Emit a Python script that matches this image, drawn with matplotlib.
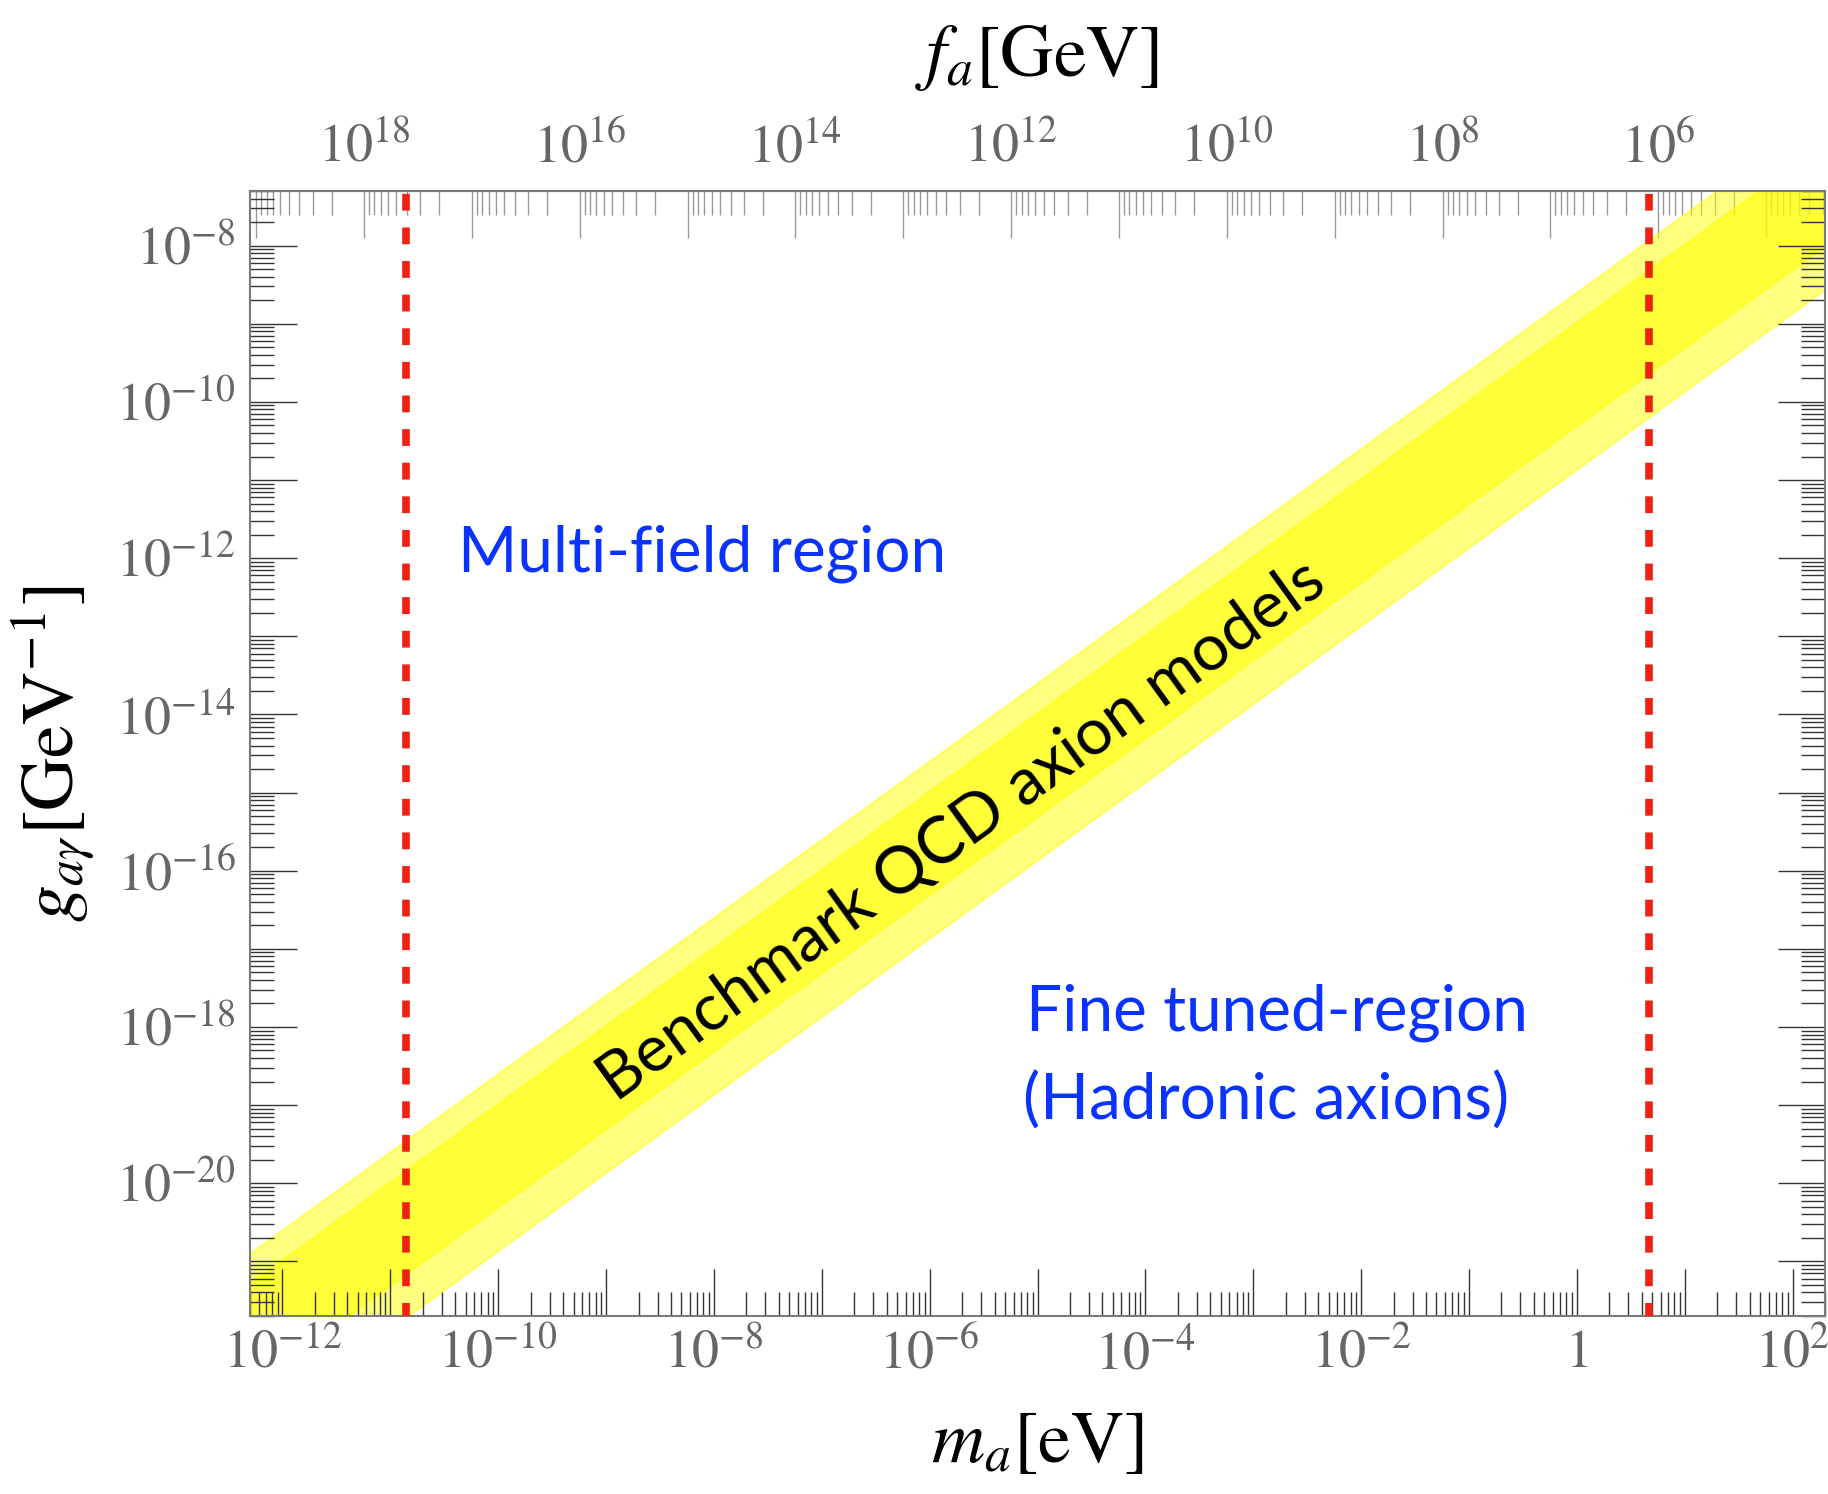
import numpy as np
import matplotlib
matplotlib.use("Agg")
import matplotlib.pyplot as plt
from matplotlib.ticker import FixedLocator, LogLocator, FuncFormatter, NullFormatter

plt.rcParams['mathtext.fontset'] = 'stix'
plt.rcParams['font.family'] = 'STIXGeneral'

# axis ranges
m_range = [5e-13, 2e2]        # m_a [eV]
g_range = [2e-22, 5e-8]       # g_a_gamma [GeV^-1]

# band edges as g/m ratio [GeV^-1 / eV]
outer_band = [1.38e-11, 2.54e-9]
inner_band = [5.0e-11, 1.05e-9]

# dashed vertical lines, m_a [eV]
vlines = [1.39e-11, 4.66]

# f_a = fa_const / m_a  (GeV, with m_a in eV)
fa_const = 5.7e6

x_major = [10.0**k for k in range(-13, 3)]
x_labels = {-12: r'$10^{-12}$', -10: r'$10^{-10}$', -8: r'$10^{-8}$', -6: r'$10^{-6}$',
            -4: r'$10^{-4}$', -2: r'$10^{-2}$', 0: r'$1$', 2: r'$10^{2}$'}
y_major = [10.0**k for k in range(-22, -6)]
y_labels = [-20, -18, -16, -14, -12, -10, -8]
f_major = [10.0**k for k in range(4, 21)]
f_labels = [18, 16, 14, 12, 10, 8, 6]

fig = plt.figure(figsize=(18.28, 14.94), dpi=100)
ax = fig.add_axes([250/1828, 1 - 1316/1494, 1575/1828, 1125/1494])
ax.set_xscale('log')
ax.set_yscale('log')
ax.set_xlim(m_range)
ax.set_ylim(g_range)

m = np.array(m_range)
ax.fill_between(m, outer_band[0]*m, outer_band[1]*m, color='#ffff00', alpha=0.5,
                edgecolor='#ffff00', linewidth=1.5, zorder=1)
ax.fill_between(m, inner_band[0]*m, inner_band[1]*m, color='#ffff00', alpha=0.55,
                edgecolor='#ffff00', linewidth=1.5, zorder=1)

for xv in vlines:
    ax.axvline(xv, color='#ee2211', lw=5.5, ls=(0.5, (2.2, 2.2)), zorder=3)

# text
ax.text(10**-5.70, 10**-15.49, 'Benchmark QCD axion models', family='Lato', fontsize=47,
        rotation=35.8, rotation_mode='anchor', ha='center', va='center', color='black')
ax.text(10**-10.37, 10**-12.17, 'Multi-field region', family='Lato', fontsize=46,
        color='#0a33ff', ha='left', va='baseline')
ax.text(10**-5.11, 10**-18.05, 'Fine tuned-region', family='Lato', fontsize=46,
        color='#0a33ff', ha='left', va='baseline')
ax.text(10**-5.13, 10**-19.18, '(Hadronic axions)', family='Lato', fontsize=46,
        color='#0a33ff', ha='left', va='baseline')

# ticks
spine_col = '#7a7a7a'
for s in ax.spines.values():
    s.set_color(spine_col)
    s.set_linewidth(1.5)

ax.xaxis.set_major_locator(FixedLocator(x_major))
ax.xaxis.set_minor_locator(LogLocator(base=10, subs=np.arange(2, 10), numticks=50))
ax.xaxis.set_major_formatter(FuncFormatter(
    lambda v, p: x_labels.get(int(round(np.log10(v))), '')))
ax.xaxis.set_minor_formatter(NullFormatter())

ax.yaxis.set_major_locator(FixedLocator(y_major))
ax.yaxis.set_minor_locator(LogLocator(base=10, subs=np.arange(2, 10), numticks=50))
ax.yaxis.set_major_formatter(FuncFormatter(
    lambda v, p: r'$10^{%d}$' % round(np.log10(v)) if round(np.log10(v)) in y_labels else ''))
ax.yaxis.set_minor_formatter(NullFormatter())

ax.tick_params(which='both', direction='in', top=False, right=True, color='#333333',
               labelcolor='#666666', labelsize=39)
ax.tick_params(which='major', length=34, width=1.0, pad=10)
ax.tick_params(which='minor', length=17, width=1.0)

ax.set_xlabel(r'$m_a[\mathrm{eV}]$', fontsize=53, labelpad=22)
ax.set_ylabel(r'$g_{a\gamma}[\mathrm{GeV}^{-1}]$', fontsize=53, labelpad=14)

# top axis f_a
def to_fa(x):
    x = np.asarray(x, dtype=float)
    with np.errstate(divide='ignore'):
        return fa_const / x

secax = ax.secondary_xaxis('top', functions=(to_fa, to_fa))
secax.xaxis.set_major_locator(FixedLocator(f_major))
secax.xaxis.set_minor_locator(LogLocator(base=10, subs=np.arange(2, 10), numticks=50))
secax.xaxis.set_major_formatter(FuncFormatter(
    lambda v, p: r'$10^{%d}$' % round(np.log10(v)) if round(np.log10(v)) in f_labels else ''))
secax.xaxis.set_minor_formatter(NullFormatter())
secax.tick_params(which='both', direction='in', color='#999999', labelcolor='#666666',
                  labelsize=39)
secax.tick_params(which='major', length=34, width=1.0, pad=12)
secax.tick_params(which='minor', length=17, width=1.0)
secax.spines['top'].set_color(spine_col)
secax.spines['top'].set_linewidth(1.5)
secax.set_xlabel(r'$f_a[\mathrm{GeV}]$', fontsize=53, labelpad=34)

fig.savefig('out.png', dpi=100)
